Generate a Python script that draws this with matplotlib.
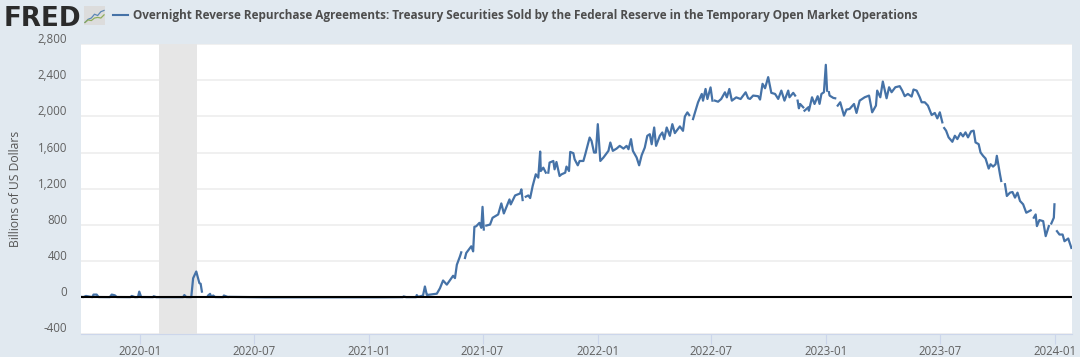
import numpy as np
import pandas as pd
import matplotlib
matplotlib.use('Agg')
import matplotlib.pyplot as plt
from matplotlib.transforms import ScaledTranslation

nan = np.nan
title = 'Overnight Reverse Repurchase Agreements: Treasury Securities Sold by the Federal Reserve in the Temporary Open Market Operations'

# days since 2020-01-01
days = [-94, -90, -86, -76, -74, -69, -66, -64, -48, -45, -40, -37, -15, -13, -8, -3, -1, 2, 21, 22, 26, 69, 71, 74, 82, 85, 90, 95, 97, 99, 104,
        109, 112, 114, 117, 120, 133, 134, 141, 142, 200, 300, 380, 420, 421, 425, 441, 442, 444, 447, 452, 455, 458,
        460, 474, 479, 484, 490, 500, 503, 506, 511, 513, 516, 519, 521, 529, 532, 534, 537, 542, 545, 547, 549, 551,
        553, 559, 563, 572, 577, 581, 590, 592, 599, 607, 609, 611, 613, 616, 620, 623, 627, 632, 636, 639, 640, 644, 648, 650,
        652, 654, 660, 662, 665, 670, 673, 679, 681, 685, 687, 692, 694, 699, 702, 708, 711, 718, 721, 725, 728, 731, 735,
        740, 744, 748, 751, 755, 761, 766, 772, 777, 780, 784, 787, 793, 797, 801, 806, 810, 814, 817, 821, 824, 830, 834, 837,
        841, 846, 850, 854, 862, 867, 870, 874, 877, 880, 883, 887, 891, 897, 899, 903, 906, 911, 914, 916,
        918, 923, 928, 934, 937, 941, 945, 952, 959, 967, 971,
        974, 979, 987, 990, 994, 998, 1003, 1008, 1014, 1019, 1024, 1029, 1035, 1037, 1043, 1046, 1048,
        1050, 1052, 1054, 1059, 1060, 1061, 1067, 1068, 1073, 1077, 1082, 1085, 1088, 1092, 1095, 1097, 1099,
        1100, 1101, 1107, 1110, 1112, 1114, 1118, 1124, 1128, 1133, 1140, 1144, 1149, 1157, 1164, 1169, 1175, 1177, 1182, 1186,
        1192, 1196, 1200, 1206, 1213, 1217, 1221, 1226, 1232, 1235, 1240, 1245, 1248, 1253, 1258, 1264, 1269, 1273, 1277, 1281, 1283,
        1284, 1287, 1291, 1297, 1301, 1305, 1310, 1314, 1318, 1322, 1327, 1331, 1334, 1339, 1342, 1346, 1350, 1355, 1358, 1362,
        1366, 1368, 1373, 1375, 1378, 1381, 1384, 1389, 1393, 1397, 1401, 1405, 1410, 1415, 1422, 1425,
        1427, 1430, 1432, 1436, 1442, 1446, 1451, 1453, 1455, 1459, 1460, 1462, 1464, 1468, 1473, 1476, 1482, 1487]
values = [5, 3, 15, 2, 30, 30, 3, 3, 2, 30, 22, 3, 2, 15, 2, 3, 63, 3, 2, 12, 2, 2, 25, 3, 2, 211, 285, 156, 150, 63, nan,
          20, 38, 5, 20, 3, 2, 20, 2, 5, 0, 0, 0, 2, 10, 2, 2, 25, 5, 10, 20, 120, 27,
          27, 40, 100, 186, 140, 238, 212, 360, 453, 497, nan, 435, 490, 564, 508, 779, 786, 823, 768, 1000, 749, nan,
          793, 804, 879, 916, 1038, 927, 1082, 1027, 1126, 1148, 1193, 1075, nan, 1112, 1126, 1097, 1230, 1360, 1323, 1611, 1396, 1433, 1378, nan,
          1378, 1489, 1507, 1415, 1496, 1341, 1359, 1378, 1445, 1396, 1607, 1593, 1526, 1459, 1507, 1507, 1581, 1766, 1729, 1600, 1600, 1914, 1507,
          1545, 1581, 1619, 1711, 1619, 1644, 1674, 1644, 1674, 1637, 1748, 1619, 1545, 1459, 1570, 1655, 1785, 1803, 1692, 1877, 1674, 1785, 1822, 1748,
          1877, 1785, 1914, 1815, 1889, 1840, 1999, 2044, 2014, nan, 1970, 2062, 2155, 2248, 2174, 2303, 2192, 2320, 2174, nan,
          2174, 2162, 2192, 2266, 2210, 2303, 2174, 2210, 2192, 2266, 2200,
          2193, 2230, 2223, 2186, 2360, 2311, 2434, 2260, 2248, 2193, 2285, 2174, 2285, 2211, 2260, 2230, nan,
          2174, 2089, 2137, 2100, nan, 2063, 2100, 2063, 2211, 2137, 2223, 2138, 2248, 2267, 2570, 2285, nan,
          2267, 2230, 2204, 2200, nan, 2119, 2156, 2008, 2075, 2082, 2137, 2038, 2174, 2211, 2230, 2045, 2119, 2285, 2211, 2385,
          2200, 2322, 2267, 2322, 2334, 2285, 2223, 2248, 2219, 2297, 2285, 2211, 2156, 2156, 2119, 2015, 2038, 1978, 2045, 1934, nan,
          1871, 1842, 1768, 1719, 1786, 1749, 1816, 1779, 1823, 1768, 1834, 1842, 1712, 1693, 1601, 1564, 1534, 1423, 1471, 1445,
          1471, 1564, 1360, 1286, nan, 1250, 1120, 1157, 1164, 1102, 1157, 1065, 1028, 935, 961, nan,
          880, 916, 787, 854, 842, 676, 787, nan, 816, 880, 1028, nan, 731, 694, 694, 620, 650, 546]

y_ticks = [-400, 0, 400, 800, 1200, 1600, 2000, 2400, 2800]
x_ticks = ['2020-01', '2020-07', '2021-01', '2021-07', '2022-01', '2022-07', '2023-01', '2023-07', '2024-01']
recession = ['2020-02-01', '2020-04-01']
x_range = ['2019-09-29', '2024-01-28']

# small logo sparklines
logo_blue = [0.8, 1.8, 2.2, 3.4, 3, 4.2, 4.6]
logo_green = [0.8, 1.6, 1.4, 2.2, 2.4, 2.2, 3.2]

dates = pd.Timestamp('2020-01-01') + pd.to_timedelta(days, unit='D')
W, H = 1080, 357
plt.rcParams['font.family'] = ['Open Sans', 'DejaVu Sans']

fig = plt.figure(figsize=(W / 100, H / 100), dpi=100, facecolor='#e1e9f0')
ax = fig.add_axes([81 / W, 1 - 333.5 / H, (1072 - 81) / W, (333.5 - 44) / H])
ax.set_facecolor('white')
ax.plot(dates, values, color='#4572a7', lw=1.6, zorder=3, solid_joinstyle='round')
ax.axhline(0, color='black', lw=1.5, zorder=4)
ax.axvspan(pd.Timestamp(recession[0]), pd.Timestamp(recession[1]), color='#e6e6e6', lw=0, zorder=1)

ax.set_xlim(pd.Timestamp(x_range[0]), pd.Timestamp(x_range[1]))
ax.set_ylim(-400, 2800)
ax.set_yticks(y_ticks)
ax.set_yticklabels([f'{v:,}' for v in y_ticks])
ax.set_xticks(pd.to_datetime(x_ticks))
ax.set_xticklabels(x_ticks)
ax.grid(axis='y', color='#eeeeee', lw=1.2, zorder=0)
ax.set_axisbelow(True)
ax.tick_params(axis='y', length=0, pad=10, labelsize=8.3, labelcolor='#606060')
ax.tick_params(axis='x', length=7, width=0.8, color='#ccd6eb', pad=1, labelsize=8.3, labelcolor='#606060')
# the y labels sit above their gridlines
for lab in ax.get_yticklabels():
    lab.set_transform(lab.get_transform() + ScaledTranslation(0, 6 / 100, fig.dpi_scale_trans))
for s in ['top', 'left', 'right']:
    ax.spines[s].set_visible(False)
ax.spines['bottom'].set_color('#ccd6eb')
ax.set_ylabel('Billions of US Dollars', fontsize=8.7, color='#555555')
ax.yaxis.set_label_coords(-(81 - 22) / (1072 - 81), 0.5)

fig.text(4 / W, 1 - 25.5 / H, 'FRED', fontsize=18.8, fontweight='bold', color='#2b2b2b', va='baseline', family='DejaVu Sans')
fig.add_artist(plt.Line2D([113 / W, 128 / W], [1 - 15 / H, 1 - 15 / H], color='#4572a7', lw=1.5))
fig.text(133 / W, 1 - 15 / H, title, fontsize=8.5, fontweight='bold', color='#4d4d4d', va='center')

logo = fig.add_axes([84 / W, 1 - 25 / H, 21 / W, 19 / H])
logo.set_facecolor('#dcdcdc')
logo.plot(logo_blue, color='#5b86b5', lw=0.9)
logo.plot(logo_green, color='#8fae5d', lw=0.9)
logo.set_xticks([])
logo.set_yticks([])
logo.set_ylim(0, 6)
for s in logo.spines.values():
    s.set_visible(False)

fig.savefig('out.png', dpi=100, facecolor=fig.get_facecolor())
